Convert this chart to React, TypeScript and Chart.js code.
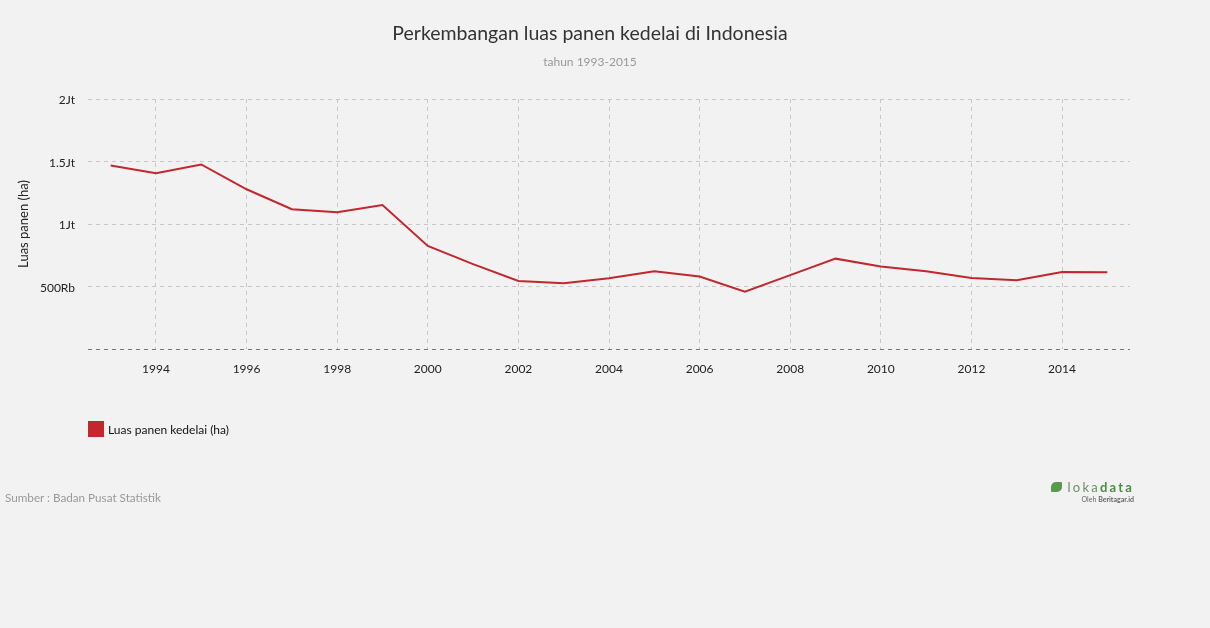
import React, { useEffect, useRef } from "react";
import { Chart, registerables } from "chart.js";

Chart.register(...registerables);

const years = [1993, 1994, 1995, 1996, 1997, 1998, 1999, 2000, 2001, 2002, 2003, 2004, 2005, 2006, 2007, 2008, 2009, 2010, 2011, 2012, 2013, 2014, 2015];
const luasPanen = [1468316, 1406038, 1476284, 1277736, 1118140, 1094262, 1151079, 824484, 678848, 544522, 526796, 565155, 621541, 580534, 459116, 590956, 722791, 660823, 622254, 567624, 550793, 615685, 614095];
const xTickYears = [1994, 1996, 1998, 2000, 2002, 2004, 2006, 2008, 2010, 2012, 2014];
const yTickValues = [0, 500000, 1000000, 1500000, 2000000];
const yTickLabels = ["", "500Rb", "1Jt", "1.5Jt", "2Jt"];

const FONT = "Lato, 'Noto Sans', sans-serif";
const RED = "#c1272d";

export default function App() {
  const ref = useRef<HTMLCanvasElement | null>(null);

  useEffect(() => {
    document.body.style.margin = "0";
    document.body.style.background = "#f2f2f2";
    const canvas = ref.current;
    if (!canvas) return;
    const chart = new Chart(canvas, {
      type: "line",
      data: {
        datasets: [
          {
            label: "Luas panen kedelai (ha)",
            data: years.map((y, i) => ({ x: y, y: luasPanen[i] })),
            borderColor: RED,
            backgroundColor: RED,
            borderWidth: 2,
            pointRadius: 0,
            tension: 0,
          },
        ],
      },
      options: {
        animation: false,
        responsive: false,
        maintainAspectRatio: false,
        layout: { padding: { top: 99, right: 80, bottom: 0, left: 0 } },
        plugins: {
          legend: { display: false },
          tooltip: { enabled: false },
          title: { display: false },
        },
        scales: {
          x: {
            type: "linear",
            min: 1992.5,
            max: 2015.5,
            afterBuildTicks: (scale: any) => {
              scale.ticks = xTickYears.map((v) => ({ value: v }));
            },
            afterFit: (scale: any) => {
              scale.height = 628 - 349;
            },
            grid: { color: "#c8c8c8", lineWidth: 1, drawTicks: false },
            border: { display: false, dash: [4, 4] },
            ticks: {
              padding: 13,
              color: "#222",
              font: { family: FONT, size: 12 },
              maxRotation: 0,
              autoSkip: false,
              callback: (v: any) => String(v),
            },
          },
          y: {
            min: 0,
            max: 2000000,
            afterBuildTicks: (scale: any) => {
              scale.ticks = yTickValues.map((v) => ({ value: v }));
            },
            afterFit: (scale: any) => {
              scale.width = 88;
            },
            grid: {
              color: (ctx: any) => (ctx.tick && ctx.tick.value === 0 ? "#777" : "#c8c8c8"),
              lineWidth: 1,
              drawTicks: false,
            },
            border: { display: false, dash: [4, 4] },
            ticks: {
              padding: 13,
              labelOffset: 1.5,
              color: "#222",
              font: { family: FONT, size: 12 },
              callback: (v: any) => {
                const i = yTickValues.indexOf(Number(v));
                return i >= 0 ? yTickLabels[i] : "";
              },
            },
            title: {
              display: true,
              text: "Luas panen (ha)",
              color: "#222",
              font: { family: FONT, size: 13 },
              padding: { top: 16, bottom: 0 },
            },
          },
        },
      },
    });
    return () => chart.destroy();
  }, []);

  return (
    <div style={{ position: "relative", width: 1210, height: 628, background: "#f2f2f2", fontFamily: FONT, overflow: "hidden" }}>
      <canvas ref={ref} width={1210} height={628} style={{ position: "absolute", left: 0, top: 0, width: 1210, height: 628 }} />
      <div style={{ position: "absolute", left: 0, width: 1180, top: 20, textAlign: "center", fontSize: 19.5, color: "#333", lineHeight: "25px" }}>
        Perkembangan luas panen kedelai di Indonesia
      </div>
      <div style={{ position: "absolute", left: 0, width: 1180, top: 54, textAlign: "center", fontSize: 12, color: "#999", lineHeight: "15px" }}>
        tahun 1993-2015
      </div>
      <div style={{ position: "absolute", left: 88, top: 421, display: "flex", alignItems: "center", fontSize: 12, color: "#111" }}>
        <div style={{ width: 16, height: 16, background: RED, marginRight: 4 }} />
        <span>Luas panen kedelai (ha)</span>
      </div>
      <div style={{ position: "absolute", left: 5, top: 490, fontSize: 11.7, color: "#999", lineHeight: "15px" }}>
        Sumber : Badan Pusat Statistik
      </div>
      <div style={{ position: "absolute", right: 76, top: 479, textAlign: "right" }}>
        <div style={{ display: "flex", alignItems: "center", justifyContent: "flex-end" }}>
          <div style={{ width: 11, height: 10, background: "#5a9a4e", borderRadius: "5px 1px 5px 1px", marginRight: 6 }} />
          <span style={{ fontSize: 13, letterSpacing: 2.2, color: "#6c8f66", lineHeight: "16px" }}>
            loka<b style={{ color: "#4f8a45" }}>data</b>
          </span>
        </div>
        <div style={{ fontSize: 7, color: "#666", lineHeight: "9px", marginTop: 0 }}>
          Oleh <b>Beritagar.id</b>
        </div>
      </div>
    </div>
  );
}
